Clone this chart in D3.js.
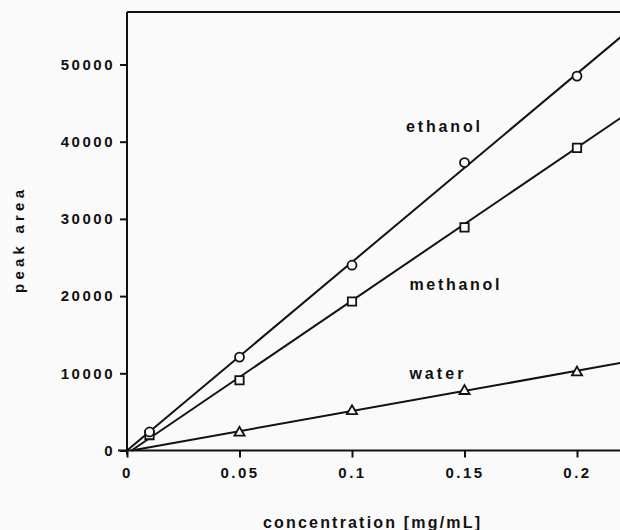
<!DOCTYPE html>
<html><head><meta charset="utf-8">
<script src="https://cdn.jsdelivr.net/npm/d3@7"></script>
<style>
html,body{margin:0;padding:0;background:#fafafa;overflow:hidden;}
text{font-family:"Liberation Sans",Arial,sans-serif;font-weight:bold;fill:#111;}
</style></head>
<body>
<svg id="c" width="620" height="530"></svg>
<script>
// ---- data ----
const concentrations = [0.01, 0.05, 0.1, 0.15, 0.2];
const ethanolValues  = [2400, 12100, 24000, 37300, 48500];
const methanolValues = [2000, 9100, 19300, 28900, 39200];
const waterConc      = [0.05, 0.1, 0.15, 0.2];
const waterValues    = [2300, 5100, 7700, 10100];
// fitted calibration lines: [x, y] endpoints
const ethanolFit  = [[0, 0], [0.22, 53700]];
const methanolFit = [[0.002, 0], [0.22, 43200]];
const waterFit    = [[0.002, 0], [0.22, 11370]];
const xTicks = [0, 0.05, 0.1, 0.15, 0.2];
const xTickLabels = ["0", "0.05", "0.1", "0.15", "0.2"];
const yTicks = [0, 10000, 20000, 30000, 40000, 50000];
const yTickLabels = ["0", "10000", "20000", "30000", "40000", "50000"];
const seriesLabels = ["ethanol", "methanol", "water"];

const svg = d3.select("#c");
const x = d3.scaleLinear().domain([0, 0.2]).range([127, 577]);
const y = d3.scaleLinear().domain([0, 50000]).range([450.5, 64.5]);
const yTop = 56800;

// frame: top border and axes
svg.append("line").attr("x1", x(0)).attr("x2", 640).attr("y1", y(yTop)).attr("y2", y(yTop))
  .attr("stroke", "#111").attr("stroke-width", 2);

const xAxis = d3.axisBottom(x).tickValues(xTicks).tickFormat((d,i) => xTickLabels[i]).tickSize(7).tickSizeOuter(0);
const gx = svg.append("g").attr("transform", `translate(0,${y(0)})`).call(xAxis);
gx.select(".domain").remove();
gx.append("line").attr("x1", 118).attr("x2", 640).attr("stroke", "#111").attr("stroke-width", 2);
gx.selectAll(".tick line").attr("stroke", "#111").attr("stroke-width", 2);
gx.selectAll(".tick text").attr("font-size", 15).attr("letter-spacing", "2.5px").attr("dy", "1.15em").attr("fill", "#111");

const yAxis = d3.axisLeft(y).tickValues(yTicks).tickFormat((d,i) => yTickLabels[i]).tickSize(7).tickSizeOuter(0);
const gy = svg.append("g").attr("transform", `translate(${x(0)},0)`).call(yAxis);
gy.select(".domain").remove();
gy.append("line").attr("y1", y(yTop)).attr("y2", y(0) + 4).attr("stroke", "#111").attr("stroke-width", 2);
gy.selectAll(".tick line").attr("stroke", "#111").attr("stroke-width", 2);
gy.selectAll(".tick text").attr("font-size", 15).attr("letter-spacing", "2.5px").attr("x", -12).attr("fill", "#111");

// fit lines
const line = d3.line().x(d => x(d[0])).y(d => y(d[1]));
[ethanolFit, methanolFit, waterFit].forEach(f => {
  svg.append("path").attr("d", line(f)).attr("fill", "none").attr("stroke", "#111").attr("stroke-width", 2);
});

// markers
const mk = svg.append("g").attr("fill", "#fafafa").attr("stroke", "#111").attr("stroke-width", 1.8);
concentrations.forEach((c, i) => {
  mk.append("path").attr("transform", `translate(${x(c)},${y(methanolValues[i])})`)
    .attr("d", d3.symbol(d3.symbolSquare, 70)());
});
concentrations.forEach((c, i) => {
  mk.append("circle").attr("cx", x(c)).attr("cy", y(ethanolValues[i])).attr("r", 4.5);
});
waterConc.forEach((c, i) => {
  mk.append("path").attr("transform", `translate(${x(c)},${y(waterValues[i])})`)
    .attr("d", d3.symbol(d3.symbolTriangle, 45)());
});

// series labels
const lab = [
  {t: seriesLabels[0], x: 0.124, y: 41300, w: 74},
  {t: seriesLabels[1], x: 0.1255, y: 20800, w: 90},
  {t: seriesLabels[2], x: 0.1255, y: 9300, w: 54}
];
lab.forEach(l => {
  svg.append("text").attr("x", x(l.x)).attr("y", y(l.y)).attr("font-size", 16)
    .attr("textLength", l.w).attr("lengthAdjust", "spacing").text(l.t);
});

// axis titles
svg.append("text").attr("x", 263).attr("y", 528).attr("font-size", 16)
  .attr("textLength", 217).attr("lengthAdjust", "spacing").text("concentration [mg/mL]");
svg.append("text").attr("transform", "translate(24,293) rotate(-90)").attr("font-size", 15)
  .attr("textLength", 103).attr("lengthAdjust", "spacing").text("peak area");
</script>
</body></html>
